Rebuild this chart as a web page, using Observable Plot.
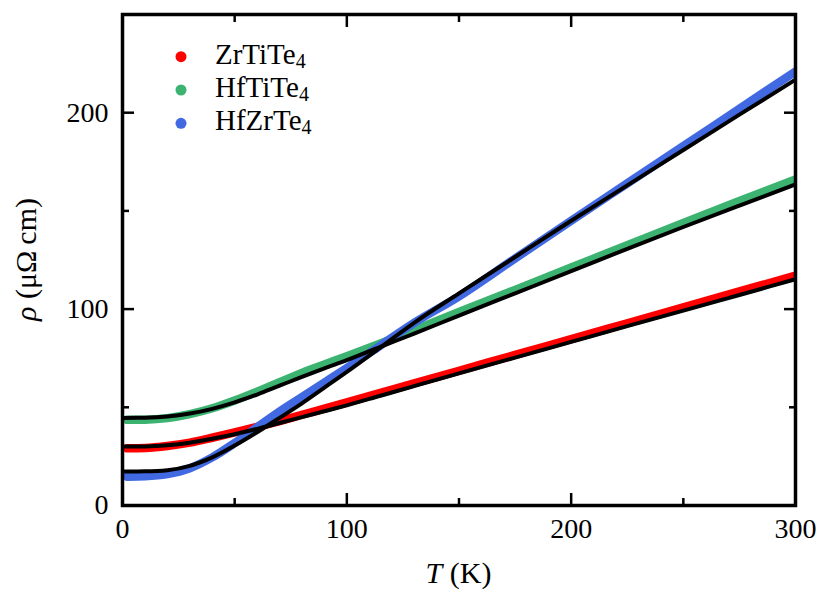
<!DOCTYPE html>
<html>
<head>
<meta charset="utf-8">
<script src="https://cdn.jsdelivr.net/npm/d3@7"></script>
<script src="https://cdn.jsdelivr.net/npm/@observablehq/plot@0.6"></script>
<style>
  html, body { margin: 0; padding: 0; background: #fff; }
  #chart { width: 832px; height: 610px; }
  #chart svg text { font-family: "Liberation Serif", "Times New Roman", serif; }
</style>
</head>
<body>
<div id="chart"></div>
<script>
// ---- data ----
const tData = [2, 10, 20, 30, 40, 50, 60, 70, 80, 90, 100, 115, 130, 150, 175, 200, 225, 250, 275, 300];
const tFit  = [0, 10, 20, 30, 40, 50, 60, 70, 80, 90, 100, 115, 130, 150, 175, 200, 225, 250, 275, 300];

const zrtite4Data = [29.1, 29.3, 30.3, 32.0, 34.5, 37.2, 40.0, 43.0, 46.2, 49.3, 52.5, 57.3, 62.2, 68.6, 76.7, 84.7, 92.8, 100.9, 109.0, 117.0];
const zrtite4Fit  = [30.0, 30.1, 30.7, 32.0, 34.0, 36.3, 39.0, 42.0, 45.0, 48.0, 51.0, 55.9, 60.8, 67.3, 75.3, 83.3, 91.3, 99.2, 107.2, 115.2];

const hftite4Data = [43.6, 43.7, 44.5, 46.5, 49.5, 53.5, 58.0, 62.8, 67.5, 71.8, 76.0, 82.5, 89.3, 98.5, 109.8, 121.2, 132.5, 143.8, 155.0, 166.0];
const hftite4Fit  = [44.6, 44.7, 45.3, 46.8, 49.2, 52.5, 56.5, 61.0, 65.5, 69.8, 74.0, 80.8, 87.5, 96.7, 108.0, 119.3, 130.7, 141.8, 152.7, 163.5];

const hfzrte4Data = [14.7, 14.9, 16.0, 19.0, 24.5, 31.8, 39.8, 47.8, 55.2, 62.6, 70.0, 81.5, 93.0, 106.5, 125.8, 145.0, 164.0, 183.0, 202.0, 221.0];
const hfzrte4Fit  = [17.3, 17.4, 18.0, 20.2, 24.5, 30.5, 37.3, 44.6, 52.0, 60.0, 68.0, 80.5, 93.0, 108.0, 126.5, 145.0, 163.0, 181.0, 199.0, 216.8];

const seriesNames  = ["ZrTiTe4", "HfTiTe4", "HfZrTe4"];
const seriesLabels = [["ZrTiTe", "4"], ["HfTiTe", "4"], ["HfZrTe", "4"]];
const seriesColors = ["red", "mediumseagreen", "royalblue"];

const xMajorTicks = [0, 100, 200, 300];
const xMinorTicks = [50, 150, 250];
const yMajorTicks = [0, 100, 200];
const yMinorTicks = [50, 150];

// ---- build tables ----
const dataSets = [zrtite4Data, hftite4Data, hfzrte4Data];
const fitSets  = [zrtite4Fit, hftite4Fit, hfzrte4Fit];
const dataRows = [];
const fitRows = [];
seriesNames.forEach((name, s) => {
  tData.forEach((t, i) => dataRows.push({T: t, rho: dataSets[s][i], series: name}));
  tFit.forEach((t, i) => fitRows.push({T: t, rho: fitSets[s][i], series: name}));
});

const W = 832, H = 610, mL = 122, mR = 37, mT = 14, mB = 105;
const FONT = "'Liberation Serif', 'Times New Roman', serif";
const FS = 28;
const tickW = 2.5;

const chart = Plot.plot({
  width: W, height: H,
  marginLeft: mL, marginRight: mR, marginTop: mT, marginBottom: mB,
  style: {fontFamily: FONT, fontSize: FS + "px", background: "white", color: "black", overflow: "visible"},
  x: {domain: [0, 300], label: null},
  y: {domain: [0, 250], label: null},
  color: {domain: seriesNames, range: seriesColors},
  marks: [
    Plot.line(dataRows, {x: "T", y: "rho", z: "series", stroke: "series", strokeWidth: 8.5, curve: "monotone-x", clip: true}),
    Plot.line(fitRows, {x: "T", y: "rho", z: "series", stroke: "black", strokeWidth: 4, curve: "monotone-x", clip: true}),
    // inward ticks, all four sides
    Plot.axisX({anchor: "bottom", ticks: xMajorTicks, tickSize: -12, fill: "none", strokeWidth: tickW}),
    Plot.axisX({anchor: "bottom", ticks: xMinorTicks, tickSize: -7, fill: "none", strokeWidth: tickW}),
    Plot.axisX({anchor: "top", ticks: xMajorTicks, tickSize: -12, fill: "none", strokeWidth: tickW}),
    Plot.axisX({anchor: "top", ticks: xMinorTicks, tickSize: -7, fill: "none", strokeWidth: tickW}),
    Plot.axisY({anchor: "left", ticks: yMajorTicks, tickSize: -12, fill: "none", strokeWidth: tickW}),
    Plot.axisY({anchor: "left", ticks: yMinorTicks, tickSize: -7, fill: "none", strokeWidth: tickW}),
    Plot.axisY({anchor: "right", ticks: yMajorTicks, tickSize: -12, fill: "none", strokeWidth: tickW}),
    Plot.axisY({anchor: "right", ticks: yMinorTicks, tickSize: -7, fill: "none", strokeWidth: tickW}),
    // tick labels
    Plot.axisX({anchor: "bottom", ticks: xMajorTicks, tickSize: 0, tickPadding: 13, label: null,
                tickFormat: d => String(d), fontFamily: FONT, fontSize: FS}),
    Plot.axisY({anchor: "left", ticks: yMajorTicks, tickSize: 0, tickPadding: 14, label: null,
                tickFormat: d => String(d), fontFamily: FONT, fontSize: FS}),
    Plot.frame({stroke: "black", strokeWidth: 3.5})
  ]
});

document.getElementById("chart").appendChild(chart);

// ---- axis titles and legend (text) ----
const svg = d3.select(chart);
const plotCx = (mL + (W - mR)) / 2;
const plotCy = (mT + (H - mB)) / 2;

const xt = svg.append("text")
  .attr("x", plotCx).attr("y", H - mB + 78)
  .attr("text-anchor", "middle")
  .attr("font-size", 30).attr("fill", "black");
xt.append("tspan").attr("font-style", "italic").text("T");
xt.append("tspan").text(" (K)");

const yt = svg.append("text")
  .attr("transform", `translate(36,${plotCy}) rotate(-90)`)
  .attr("text-anchor", "middle")
  .attr("font-size", 30).attr("fill", "black");
yt.append("tspan").attr("font-style", "italic").text("ρ");
yt.append("tspan").text(" (μΩ\u2009cm)");

const lg = svg.append("g").attr("fill", "black");
seriesNames.forEach((name, i) => {
  const cy = 56.7 + i * 33.3;
  lg.append("circle").attr("cx", 181).attr("cy", cy).attr("r", 5.5).attr("fill", seriesColors[i]);
  const t = lg.append("text").attr("x", 215).attr("y", cy + 6.8)
    .attr("text-anchor", "start").attr("font-size", 29);
  t.append("tspan").text(seriesLabels[i][0]);
  t.append("tspan").attr("font-size", 20).attr("dy", 4).text(seriesLabels[i][1]);
});
</script>
</body>
</html>
